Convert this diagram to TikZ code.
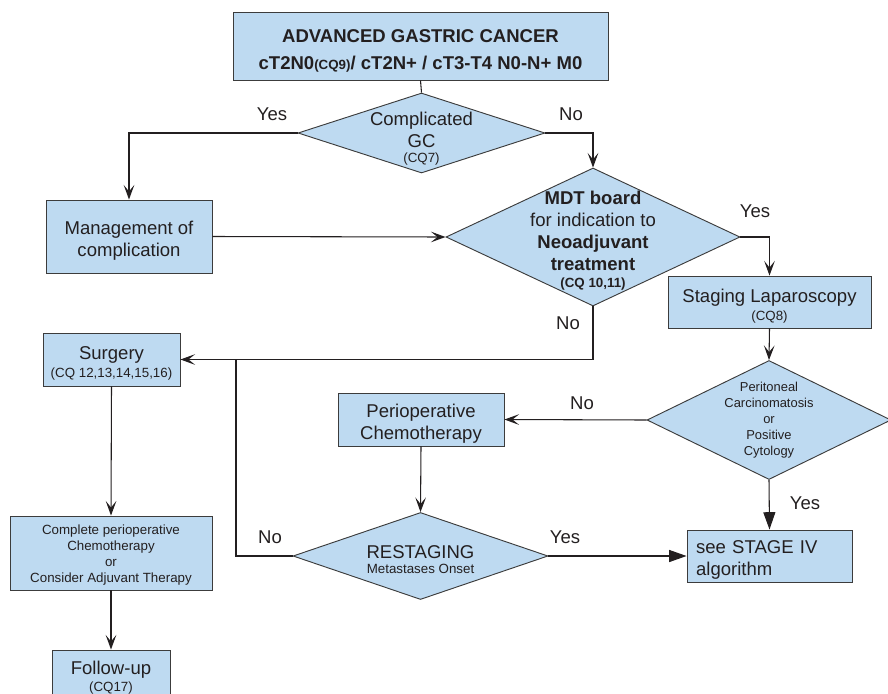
\documentclass[tikz,border=0pt]{standalone}
\usepackage{fontspec}
\setmainfont{Liberation Sans}
\usetikzlibrary{shapes.geometric, arrows.meta}
\definecolor{boxfill}{RGB}{190,218,241}
\definecolor{boxline}{RGB}{60,60,60}
\definecolor{inkcol}{RGB}{35,31,32}
\newcommand{\mainsize}{\fontsize{13.9}{16.3}\selectfont}
\newcommand{\cqsize}{\fontsize{10}{12}\selectfont}
\newcommand{\listsize}{\fontsize{9.7}{12}\selectfont}
\tikzset{
  box/.style={draw=boxline, fill=boxfill, line width=0.7pt, inner sep=0pt},
  decision/.style={diamond, draw=boxline, fill=boxfill, line width=0.7pt, inner sep=0pt},
  inside/.style={align=center, text=inkcol, font=\mainsize, yshift=-3pt},
  answer/.style={text=inkcol, inner sep=0pt, font=\mainsize},
  link/.style={draw=inkcol, line width=0.8pt},
  flow/.style={link, -{Stealth[length=11pt,width=8pt,inset=5pt]}},
  bigflow/.style={link, -{Triangle[length=13pt,width=9pt]}},
}
\begin{document}
\begin{tikzpicture}[x=0.75pt,y=0.75pt,yscale=-1,xscale=1]
        \useasboundingbox (0,0) rectangle (888,693);

        %Shape: Rectangle [id:title]
        \node [box, minimum width=281.25pt, minimum height=51pt,
          label={[inside, yshift=-0.9pt, font=\bfseries\fontsize{13.9}{20.3}\selectfont]center:{ADVANCED GASTRIC CANCER\\cT2N0{\cqsize(CQ9)}/ cT2N+ / cT3-T4 N0-N+ M0}}] (agc) at (420.5,46) {};

        %Shape: Diamond [id:complicated]
        \node [decision, minimum width=185.25pt, minimum height=60pt,
          label={[inside, yshift=-1.2pt]center:{Complicated\\GC\\[-5pt]{\cqsize(CQ7)}}}] (cgc) at (421.5,133) {};

        %Shape: Rectangle [id:management]
        \node [box, minimum width=124.5pt, minimum height=54.75pt,
          label={[inside]center:{Management of\\complication}}] (mgmt) at (129,236.5) {};

        %Shape: Diamond [id:mdt]
        \node [decision, minimum width=220.5pt, minimum height=103.5pt,
          label={[inside]center:{\textbf{MDT board}\\for indication to\\\textbf{Neoadjuvant}\\\textbf{treatment}\\[-3pt]{\cqsize\bfseries(CQ 10,11)}}}] (mdt) at (593,237) {};

        %Shape: Rectangle [id:staging]
        \node [box, minimum width=152.25pt, minimum height=39pt,
          label={[inside]center:{Staging Laparoscopy\\[-3pt]{\cqsize(CQ8)}}}] (stlap) at (769.5,302) {};

        %Shape: Diamond [id:peritoneal]
        \node [decision, minimum width=183pt, minimum height=89.25pt,
          label={[inside, yshift=3pt, font=\listsize]center:{Peritoneal\\Carcinomatosis\\or\\Positive\\Cytology}}] (perit) at (769,420) {};

        %Shape: Rectangle [id:periop]
        \node [box, minimum width=124.5pt, minimum height=39.75pt,
          label={[inside]center:{Perioperative\\Chemotherapy}}] (periop) at (421,419.5) {};

        %Shape: Diamond [id:restaging]
        \node [decision, minimum width=191.25pt, minimum height=65.25pt,
          label={[inside, yshift=0.5pt]center:{RESTAGING\\[-5pt]{\cqsize Metastases Onset}}}] (restag) at (420.5,556) {};

        %Shape: Rectangle [id:stage4]
        \node [box, minimum width=123.75pt, minimum height=39pt,
          label={[inside, align=left, text width=110pt]center:{see STAGE IV\\algorithm}}] (stage) at (769.5,556) {};

        %Shape: Rectangle [id:surgery]
        \node [box, minimum width=102.75pt, minimum height=39.75pt,
          label={[inside]center:{Surgery\\[-3pt]{\cqsize(CQ 12,13,14,15,16)}}}] (surg) at (111.5,359.5) {};

        %Shape: Rectangle [id:complete]
        \node [box, minimum width=151.5pt, minimum height=55.5pt,
          label={[inside, yshift=1.5pt, font=\fontsize{10}{11.8}\selectfont]center:{Complete perioperative\\Chemotherapy\\or\\Consider Adjuvant Therapy}}] (compl) at (111,553) {};

        %Shape: Rectangle [id:followup]
        \node [box, minimum width=88.5pt, minimum height=37.5pt,
          label={[inside, yshift=1pt]center:{Follow-up\\[-3pt]{\cqsize(CQ17)}}}] (follow) at (111,675) {};

        %Joint on the surgery line
        \coordinate (merge) at (236,359.5);

        % Connectors
        \draw [link] (agc.south) -- (cgc.north);
        \draw [flow] (cgc.west) -| (mgmt.north);
        \draw [flow] (cgc.east) -| (mdt.north);
        \draw [flow] (mgmt.east) -- (mdt.west);
        \draw [flow] (mdt.east) -| (stlap.north);
        \draw [flow] (stlap.south) -- (perit.north);
        \draw [flow] (perit.west) -- (periop.east);
        \draw [bigflow] (perit.south) -- (stage.north);
        \draw [flow] (periop.south) -- (restag.north);
        \draw [bigflow] (restag.east) -- (stage.west);
        \draw [flow] (mdt.south) |- (surg.east);
        \draw [link] (restag.west) -| (merge);
        \draw [flow] (surg.south) -- (compl.north);
        \draw [flow] (compl.south) -- (follow.north);

        % Text Node
        \node [answer] (yescgc) at (272,114) {Yes};
        % Text Node
        \node [answer] (nocgc) at (571,114) {No};
        % Text Node
        \node [answer] (yesmdt) at (755,211) {Yes};
        % Text Node
        \node [answer] (nomdt) at (568,323) {No};
        % Text Node
        \node [answer] (noperit) at (582,403) {No};
        % Text Node
        \node [answer] (yesperit) at (805,503) {Yes};
        % Text Node
        \node [answer] (norestag) at (270,537) {No};
        % Text Node
        \node [answer] (yesrestag) at (565,537) {Yes};

\end{tikzpicture}
\end{document}
